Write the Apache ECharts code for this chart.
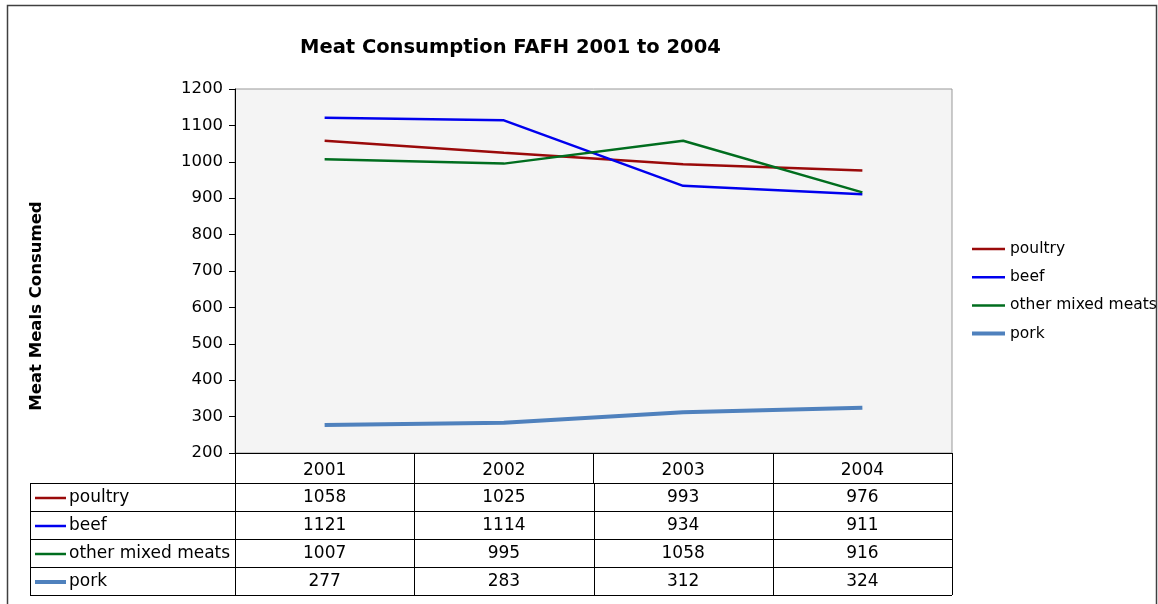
<!DOCTYPE html>
<html>
<head>
<meta charset="utf-8">
<title>Meat Consumption FAFH 2001 to 2004</title>
<script src="https://cdn.jsdelivr.net/npm/echarts@6/dist/echarts.min.js"></script>
<style>
html, body { margin: 0; padding: 0; background: #fff; }
#chart { width: 1158px; height: 604px; }
</style>
</head>
<body>
<div id="chart"></div>
<script>
var years = ['2001', '2002', '2003', '2004'];
var seriesNames = ['poultry', 'beef', 'other mixed meats', 'pork'];
var poultry = [1058, 1025, 993, 976];
var beef = [1121, 1114, 934, 911];
var otherMixed = [1007, 995, 1058, 916];
var pork = [277, 283, 312, 324];
var allValues = [poultry, beef, otherMixed, pork];

var colors = ['#9a0a0a', '#0000ee', '#006d1e', '#4f81bd'];
var widths = [2.5, 2.5, 2.5, 4];
var font = 'DejaVu Sans';

// plot area / table layout
var gridLeft = 235, gridTop = 89, gridRight = 952, gridBottom = 453;
var tableLeft = 30, rowTop = 483, rowH = 28;
var colW = (gridRight - gridLeft) / years.length;

var dom = document.getElementById('chart');
var myChart = echarts.init(dom, null, { renderer: 'canvas' });

// data table under the plot
var graphics = [
    {
        type: 'rect',
        shape: { x: 7.5, y: 5.5, width: 1149, height: 700 },
        style: { fill: 'none', stroke: '#404040', lineWidth: 1.5 },
        silent: true
    }
];
var rowsBottom = rowTop + rowH * seriesNames.length;
function hline(x1, x2, y) {
    graphics.push({ type: 'line', shape: { x1: x1, y1: y, x2: x2, y2: y }, style: { stroke: '#000', lineWidth: 1 }, silent: true });
}
function vline(x, y1, y2) {
    graphics.push({ type: 'line', shape: { x1: x, y1: y1, x2: x, y2: y2 }, style: { stroke: '#000', lineWidth: 1 }, silent: true });
}
for (var r = 0; r <= seriesNames.length; r++) {
    hline(tableLeft, gridRight, rowTop + r * rowH + 0.5);
}
vline(tableLeft + 0.5, rowTop, rowsBottom);
for (var c = 0; c <= years.length; c++) {
    vline(Math.round(gridLeft + c * colW) + 0.5, rowTop, rowsBottom);
}
seriesNames.forEach(function (name, i) {
    var cy = rowTop + i * rowH + rowH / 2 + 1;
    graphics.push({ type: 'line', shape: { x1: 35, y1: cy, x2: 66, y2: cy }, style: { stroke: colors[i], lineWidth: widths[i] }, silent: true });
    graphics.push({ type: 'text', x: 69, y: cy, style: { text: name, fill: '#000', font: '17px ' + font, verticalAlign: 'middle', align: 'left' }, silent: true });
    allValues[i].forEach(function (v, j) {
        graphics.push({
            type: 'text', x: gridLeft + colW * (j + 0.5), y: cy,
            style: { text: String(v), fill: '#000', font: '17px ' + font, verticalAlign: 'middle', align: 'center' },
            silent: true
        });
    });
});

var option = {
    animation: false,
    backgroundColor: '#fff',
    title: {
        text: 'Meat Consumption FAFH 2001 to 2004',
        left: 295,
        top: 33,
        textStyle: { color: '#000', fontSize: 19.5, fontWeight: 'bold', fontFamily: font }
    },
    legend: {
        orient: 'vertical',
        left: 965,
        top: 236,
        itemWidth: 33,
        itemHeight: 14,
        itemGap: 12.2,
        data: seriesNames.map(function (name, i) {
            return { name: name, lineStyle: { color: colors[i], width: widths[i] } };
        }),
        itemStyle: { opacity: 0 },
        textStyle: { color: '#000', fontSize: 15.5, fontFamily: font }
    },
    grid: {
        left: gridLeft,
        top: gridTop,
        width: gridRight - gridLeft,
        height: gridBottom - gridTop,
        show: true,
        backgroundColor: '#f4f4f4',
        borderColor: '#999',
        borderWidth: 1
    },
    xAxis: {
        type: 'category',
        data: years,
        boundaryGap: true,
        axisLine: { lineStyle: { color: '#000', width: 1 } },
        axisTick: { show: true, interval: 0, length: 30, lineStyle: { color: '#000' } },
        axisLabel: { color: '#000', fontSize: 17, fontFamily: font, margin: 9, interval: 0 }
    },
    yAxis: {
        type: 'value',
        min: 200,
        max: 1200,
        interval: 100,
        name: 'Meat Meals Consumed',
        nameLocation: 'middle',
        nameGap: 190,
        nameTextStyle: { color: '#000', fontSize: 16.5, fontWeight: 'bold', fontFamily: font, padding: [0, 70, 0, 0] },
        axisLine: { show: true, lineStyle: { color: '#000', width: 1 } },
        axisTick: { show: true, length: 6, lineStyle: { color: '#000' } },
        axisLabel: { color: '#000', fontSize: 16.5, fontFamily: font, margin: 12, formatter: function (v) { return String(v); } },
        splitLine: { show: false }
    },
    series: seriesNames.map(function (name, i) {
        return {
            name: name,
            type: 'line',
            data: allValues[i],
            symbol: 'none',
            color: colors[i],
            lineStyle: { color: colors[i], width: widths[i] }
        };
    }),
    graphic: graphics
};

myChart.setOption(option);
window.addEventListener('resize', myChart.resize);
</script>
</body>
</html>
